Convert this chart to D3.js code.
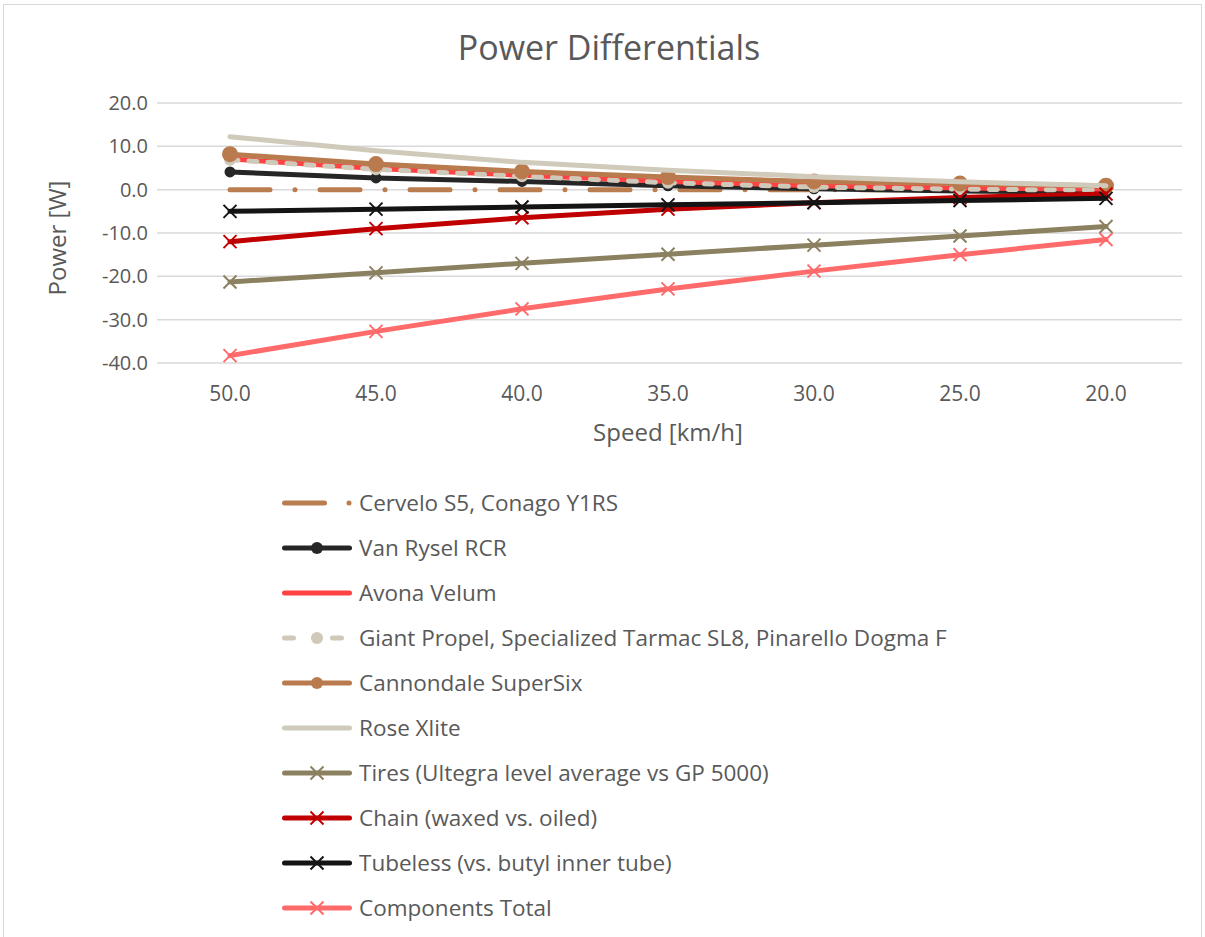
<!DOCTYPE html>
<html>
<head>
<meta charset="utf-8">
<script src="https://cdn.jsdelivr.net/npm/d3@7"></script>
<style>
  body { margin: 0; background: #fff; }
  text { font-family: "Open Sans", "Liberation Sans", sans-serif; fill: #595959; }
</style>
</head>
<body>
<div class="power-chart"></div>
<script>
var speeds = ["50.0", "45.0", "40.0", "35.0", "30.0", "25.0", "20.0"];
var yTicks = [20, 10, 0, -10, -20, -30, -40];

var cervelo = [0, 0, 0, 0, 0, 0, 0];
var vanRysel = [4.1, 2.7, 1.9, 0.9, 0.2, -0.3, -0.6];
var avona = [7.1, 4.9, 3.3, 1.9, 0.9, 0.4, 0.1];
var giant = [6.9, 4.7, 3.1, 1.6, 0.6, 0.1, -0.1];
var cannondale = [8.2, 5.9, 4.2, 2.9, 1.9, 1.4, 0.9];
var rose = [12.2, 9.0, 6.3, 4.5, 3.0, 1.8, 0.9];
var tires = [-21.3, -19.2, -17.0, -14.9, -12.8, -10.7, -8.5];
var chain = [-12.0, -9.0, -6.5, -4.5, -3.0, -1.8, -1.0];
var tubeless = [-5.0, -4.5, -4.0, -3.5, -3.0, -2.5, -2.0];
var components = [-38.3, -32.7, -27.5, -22.9, -18.8, -15.0, -11.5];

var series = [
  {name: "Cervelo S5, Conago Y1RS", values: cervelo, color: "#BA7D50", dash: "40,25,0,25", legendDash: "40,25", marker: null},
  {name: "Van Rysel RCR", values: vanRysel, color: "#262626", dash: null, marker: "circle", r: 5.5},
  {name: "Avona Velum", values: avona, color: "#FF4343", dash: null, marker: null},
  {name: "Giant Propel, Specialized Tarmac SL8, Pinarello Dogma F", values: giant, color: "#CFC9B9", dash: "8,11", legendDash: "9,39", marker: "circle", r: 6},
  {name: "Cannondale SuperSix", values: cannondale, color: "#B97A4E", dash: null, marker: "circle", r: 8},
  {name: "Rose Xlite", values: rose, color: "#D0CABB", dash: null, marker: null},
  {name: "Tires (Ultegra level average vs GP 5000)", values: tires, color: "#8B8160", dash: null, marker: "x"},
  {name: "Chain (waxed vs. oiled)", values: chain, color: "#C00000", dash: null, marker: "x"},
  {name: "Tubeless (vs. butyl inner tube)", values: tubeless, color: "#141414", dash: null, marker: "x"},
  {name: "Components Total", values: components, color: "#FF6B6B", dash: null, marker: "x"}
];

var width = 1205, height = 937;

var svg = d3.select(".power-chart").append("svg")
    .attr("width", width)
    .attr("height", height);

svg.append("rect")
    .attr("x", 3.5).attr("y", 4.5)
    .attr("width", 1198).attr("height", 940)
    .attr("fill", "#fff")
    .attr("stroke", "#D9D9D9");

var x = d3.scalePoint()
    .domain(speeds)
    .range([157, 1179])
    .padding(0.5);

var y = d3.scaleLinear()
    .domain([-40, 20])
    .range([363, 103]);

// gridlines
svg.append("g")
  .selectAll("line")
  .data(yTicks)
  .enter().append("line")
    .attr("x1", 157).attr("x2", 1182)
    .attr("y1", function(d) { return y(d); })
    .attr("y2", function(d) { return y(d); })
    .attr("stroke", "#D9D9D9")
    .attr("stroke-width", 1.5);

// y labels (plain hyphen like the original)
svg.append("g")
  .selectAll("text")
  .data(yTicks)
  .enter().append("text")
    .attr("x", 148)
    .attr("y", function(d) { return y(d); })
    .attr("dy", "0.35em")
    .attr("text-anchor", "end")
    .style("font-size", "20px")
    .text(function(d) { return d3.format(".1f")(d).replace("\u2212", "-"); });

// x labels
svg.append("g")
  .selectAll("text")
  .data(speeds)
  .enter().append("text")
    .attr("x", function(d) { return x(d); })
    .attr("y", 394)
    .attr("dy", "0.35em")
    .attr("text-anchor", "middle")
    .style("font-size", "21px")
    .text(function(d) { return d; });

svg.append("text")
    .attr("x", 609).attr("y", 48)
    .attr("dy", "0.35em")
    .attr("text-anchor", "middle")
    .style("font-size", "34px")
    .text("Power Differentials");

svg.append("text")
    .attr("x", 668).attr("y", 433)
    .attr("dy", "0.35em")
    .attr("text-anchor", "middle")
    .style("font-size", "24px")
    .text("Speed [km/h]");

svg.append("text")
    .attr("transform", "translate(58,238) rotate(-90)")
    .attr("dy", "0.35em")
    .attr("text-anchor", "middle")
    .style("font-size", "24px")
    .text("Power [W]");

var line = d3.line()
    .x(function(d, i) { return x(speeds[i]); })
    .y(function(d) { return y(d); });

function drawMarker(g, s, cx, cy) {
  if (s.marker === "circle") {
    g.append("circle")
        .attr("cx", cx).attr("cy", cy).attr("r", s.r)
        .attr("fill", s.color);
  } else if (s.marker === "x") {
    var h = 6.5;
    g.append("path")
        .attr("d", "M" + (cx - h) + "," + (cy - h) + "L" + (cx + h) + "," + (cy + h) +
                   "M" + (cx - h) + "," + (cy + h) + "L" + (cx + h) + "," + (cy - h))
        .attr("stroke", s.color)
        .attr("stroke-width", 2)
        .attr("fill", "none");
  }
}

var plot = svg.append("g");
series.forEach(function(s) {
  var g = plot.append("g");
  g.append("path")
      .attr("d", line(s.values))
      .attr("fill", "none")
      .attr("stroke", s.color)
      .attr("stroke-width", 5)
      .attr("stroke-linecap", "round")
      .attr("stroke-linejoin", "round")
      .attr("stroke-dasharray", s.dash);
  s.values.forEach(function(v, i) { drawMarker(g, s, x(speeds[i]), y(v)); });
});

// legend
var legend = svg.append("g")
  .selectAll("g")
  .data(series)
  .enter().append("g")
    .attr("transform", function(d, i) { return "translate(0," + (503 + i * 45) + ")"; });

legend.append("line")
    .attr("x1", 284.5).attr("x2", 349.5)
    .attr("stroke", function(d) { return d.color; })
    .attr("stroke-width", 5)
    .attr("stroke-linecap", "round")
    .attr("stroke-dasharray", function(d) { return d.legendDash || null; });

legend.each(function(d) {
  var g = d3.select(this);
  if (d.name === "Cervelo S5, Conago Y1RS") {
    g.append("circle").attr("cx", 349).attr("cy", 0).attr("r", 2.5).attr("fill", d.color);
  }
  drawMarker(g, d.marker === "circle" ? {marker: "circle", r: 6, color: d.color} : d, 317, 0);
});

legend.append("text")
    .attr("x", 359)
    .attr("dy", "0.35em")
    .style("font-size", "22.5px")
    .text(function(d) { return d.name; });
</script>
</body>
</html>
